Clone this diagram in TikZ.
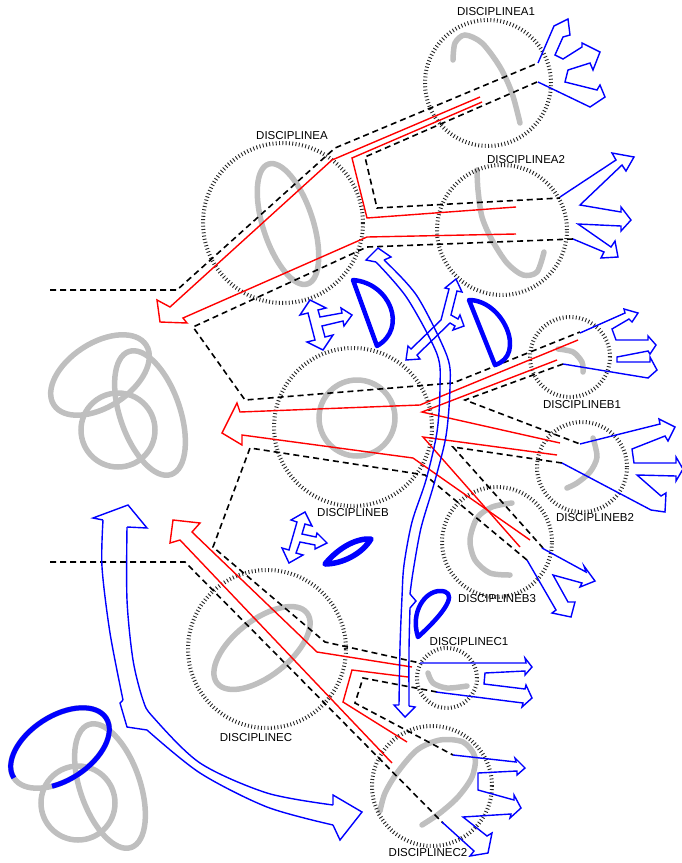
\documentclass[tikz,border=0pt]{standalone}
\usepackage{fontspec}
\setmainfont{Liberation Sans}

\tikzset{
  dotring/.style={black!85, line width=4pt, dash pattern=on 0.9pt off 2.4pt},
  linkline/.style={line width=1.6pt, dash pattern=on 6pt off 4pt},
  redline/.style={red, line width=1.4pt},
  bluearrow/.style={blue, line width=1.4pt},
  grayline/.style={black!25, line width=5.5pt, line cap=round},
  bluemark/.style={blue, line width=4.5pt, line join=round},
  lab/.style={font=\fontsize{11.5}{12}\selectfont, inner sep=0pt},
}

% three overlapping loops
\newcommand\knot{%
  \draw[grayline, rotate around={33:(100,375)}] (100,375) ellipse (55pt and 32pt);
  \draw[grayline] (118,430) circle (37pt);
  \draw[grayline, rotate around={19:(150,413)}] (150,413) ellipse (30pt and 65pt);
}

\begin{document}
\begin{tikzpicture}[x=1pt, y=-1pt]
\useasboundingbox (0,0) rectangle (682,863);

\coordinate (A1) at (488,83);
\coordinate (A)  at (283,223);
\coordinate (A2) at (502,230);
\coordinate (B)  at (353,427);
\coordinate (B1) at (570,357);
\coordinate (B2) at (582,467);
\coordinate (B3) at (497,542);
\coordinate (C)  at (267,649);
\coordinate (C1) at (447,678);
\coordinate (C2) at (432,786);

% gray strokes inside the disciplines
\knot
\begin{scope}[shift={(-40,373)}]
  \knot
  \draw[bluemark, line width=5pt, rotate around={33:(100,375)}] (100,375) ++(180:55pt and 32pt)
     arc[start angle=180, end angle=-120, x radius=55pt, y radius=32pt];
\end{scope}
\draw[grayline] plot[smooth] coordinates {(453,60) (455,43) (465,35) (482,43) (500,67) (512,93) (520,123)};
\draw[grayline, rotate around={18:(288,224)}] (288,224) ellipse (25pt and 63pt);
\draw[grayline] plot[smooth] coordinates {(477,170) (478,190) (482,217) (492,240) (507,263) (523,275) (537,272) (544,252)};
\draw[grayline] (357,418) circle (38pt);
\draw[grayline] plot[smooth] coordinates {(558,349) (573,352) (582,362) (583,372)};
\draw[grayline] plot[smooth] coordinates {(593,438) (597,457) (590,472) (577,483) (567,488)};
\draw[grayline] plot[smooth] coordinates {(512,503) (492,507) (477,518) (470,540) (475,560) (490,573) (510,575)};
\draw[grayline, rotate around={38:(262,648)}] (262,648) ellipse (57pt and 28pt);
\draw[grayline] plot[smooth] coordinates {(428,673) (433,683) (447,688) (467,686)};
\draw[grayline] plot[smooth] coordinates {(380,811) (385,793) (397,773) (417,750) (440,740) (463,742) (475,757) (472,777) (458,797) (440,813) (422,825)};

% discipline rings
\foreach \n/\r in {A1/63, A/80, A2/65, B/79, B1/40, B2/45, B3/55, C/79, C1/30, C2/60}
  \draw[dotring] (\n) circle (\r pt);

% dashed channels
\draw[linkline] (50,290) -- (177,290) -- (335,148) -- (538,63);
\draw[linkline] (537,82) -- (365,157) -- (377,208) -- (560,198);
\draw[linkline] (573,239) -- (367,247) -- (193,327) -- (245,400) -- (453,383) -- (580,332);
\draw[linkline] (563,364) -- (465,400) -- (580,444);
\draw[linkline] (562,463) -- (453,447) -- (543,548);
\draw[linkline] (527,560) -- (425,475) -- (250,448) -- (213,547) -- (325,642) -- (420,663);
\draw[linkline] (437,692) -- (363,678) -- (355,703) -- (453,755);
\draw[linkline] (50,562) -- (185,562) -- (443,823);

% red return arrows
\draw[redline] (480,97) -- (332,160) -- (170,307) -- (157,300) -- (160,322) -- (187,323) -- (183,318) -- (367,237) -- (516,234);
\draw[redline] (482,102) -- (352,158) -- (367,218) -- (516,207);
\draw[redline] (578,340) -- (420,405) -- (240,412) -- (237,403) -- (222,433) -- (242,445) -- (242,435) -- (413,458) -- (530,540);
\draw[redline] (557,360) -- (422,412) -- (560,443);
\draw[redline] (557,455) -- (423,437) -- (520,547);
\draw[redline] (412,667) -- (317,652) -- (192,532) -- (200,523) -- (173,520) -- (170,543) -- (180,540) -- (392,763);
\draw[redline] (408,677) -- (352,670) -- (343,702) -- (407,742);

% solid blue blots
\draw[bluemark] (353,280) .. controls (390,283) and (408,328) .. (377,346) -- cycle;
\draw[bluemark] (469,300) .. controls (503,300) and (527,355) .. (495,365) -- cycle;
\draw[bluemark, line width=5.5pt] (325,564) .. controls (340,546) and (358,538) .. (371,539) .. controls (362,554) and (342,564) .. cycle;
\draw[bluemark] (418,637) .. controls (410,612) and (425,591) .. (440,591) .. controls (456,591) and (452,606) .. cycle;

% outgoing blue arrows
\draw[bluearrow] (538,63) -- (554,26) -- (568,19) -- (570,35) -- (563,37) -- (555,55) -- (563,59) -- (582,47) -- (582,43) -- (600,52) -- (593,70) -- (590,63) -- (568,70) -- (565,82) -- (597,90) -- (600,85) -- (605,97) -- (590,107) -- (538,82);
\draw[bluearrow] (560,197) -- (616,160) -- (612,153) -- (634,157) -- (626,171) -- (622,165) -- (580,205) -- (621,212) -- (621,207) -- (631,220) -- (621,231) -- (621,226) -- (578,224) -- (611,247) -- (615,241) -- (618,257) -- (601,258) -- (604,252) -- (573,239);
\draw[bluearrow] (580,333) -- (625,313) -- (624,309) -- (638,313) -- (632,322) -- (629,319) -- (612,329) -- (616,340) -- (648,340) -- (648,336) -- (656,345) -- (650,354) -- (648,351) -- (617,357) -- (617,362) -- (650,362) -- (650,357) -- (657,370) -- (648,378) -- (563,364);
\draw[bluearrow] (580,444) -- (660,424) -- (659,419) -- (675,427) -- (668,441) -- (665,436) -- (632,449) -- (634,463) -- (676,463) -- (676,457) -- (683,469) -- (676,481) -- (676,476) -- (637,475) -- (661,496) -- (666,493) -- (665,512) -- (651,510) -- (562,463);
\draw[bluearrow] (542,548) -- (586,572) -- (584,566) -- (595,581) -- (580,587) -- (582,583) -- (553,575) -- (568,602) -- (575,602) -- (571,617) -- (552,613) -- (556,610) -- (527,560);
\draw[bluearrow] (420,663) -- (526,663) -- (525,658) -- (532,667) -- (525,675) -- (525,671) -- (485,673) -- (484,684) -- (525,689) -- (526,685) -- (532,698) -- (522,707) -- (523,703) -- (436,692);
\draw[bluearrow] (453,755) -- (516,762) -- (515,758) -- (525,768) -- (517,775) -- (517,771) -- (478,773) -- (478,790) -- (514,800) -- (514,795) -- (521,808) -- (510,818) -- (511,814) -- (463,817) -- (487,836) -- (492,833) -- (488,853) -- (470,856) -- (474,851) -- (442,822);

% exchange arrows
\draw[bluearrow] (310,300) -- (326,308) -- (318,310) -- (320,317) -- (342,313) -- (341,308) -- (352,315) -- (344,326) -- (343,321) -- (322,326) -- (325,337) -- (333,335) -- (323,350) -- (307,342) -- (315,340) -- (308,313) -- (300,315) -- cycle;
\draw[bluearrow] (305,512) -- (312,526) -- (305,524) -- (302,534) -- (316,537) -- (317,533) -- (327,543) -- (315,549) -- (315,545) -- (300,542) -- (296,553) -- (303,555) -- (289,563) -- (282,548) -- (289,550) -- (297,522) -- (291,520) -- cycle;
\draw[bluearrow] (456,279) -- (462,292) -- (457,291) -- (451,315) -- (458,319) -- (460,315) -- (464,326) -- (453,330) -- (455,326) -- (450,323) -- (417,355) -- (420,359) -- (406,360) -- (408,346) -- (411,349) -- (441,320) -- (449,289) -- (445,288) -- cycle;

% long s-shaped arrow
\draw[bluearrow] plot[smooth] coordinates {(376,262) (407,298) (437,354) (440,387) (437,432) (426,480) (412,522) (404,565) (402,597) (400,647) (399,705)};
\draw[bluearrow] plot[smooth] coordinates {(384,260) (417,296) (447,356) (450,387) (446,436) (434,484) (421,528) (413,572) (410,594)};
\draw[bluearrow] (410,594) -- (416,601) -- (410,608);
\draw[bluearrow] plot[smooth] coordinates {(410,608) (409,650) (409,706)};
\draw[bluearrow] (376,262) -- (366,260) -- (378,248) -- (391,257) -- (384,260);
\draw[bluearrow] (399,705) -- (394,705) -- (405,717) -- (415,707) -- (409,706);

% big bent arrow on the left
\draw[bluearrow] (103,520) -- (93,518) -- (128,505) -- (147,528) -- (127,527);
\draw[bluearrow] plot[smooth] coordinates {(103,520) (102,567) (110,633) (123,700)};
\draw[bluearrow] (123,700) -- (120,703) -- (127,727) -- (147,730);
\draw[bluearrow] plot[smooth] coordinates {(127,527) (127,600) (133,660) (143,700) (153,717) (200,763) (267,793) (333,805)};
\draw[bluearrow] plot[smooth] coordinates {(147,730) (200,773) (267,807) (333,825)};
\draw[bluearrow] (333,805) -- (333,795) -- (362,812) -- (340,840) -- (333,825);

% labels
\node[lab] (labA1) at (496,12)  {DISCIPLINEA1};
\node[lab] (labA)  at (292,136) {DISCIPLINEA};
\node[lab] (labA2) at (526,160) {DISCIPLINEA2};
\node[lab] (labB1) at (582,405) {DISCIPLINEB1};
\node[lab] (labB)  at (353,513) {DISCIPLINEB};
\node[lab] (labB2) at (595,518) {DISCIPLINEB2};
\node[lab] (labB3) at (497,599) {DISCIPLINEB3};
\node[lab] (labC1) at (469,642) {DISCIPLINEC1};
\node[lab] (labC)  at (256,738) {DISCIPLINEC};
\node[lab] (labC2) at (428,853) {DISCIPLINEC2};
\end{tikzpicture}
\end{document}
